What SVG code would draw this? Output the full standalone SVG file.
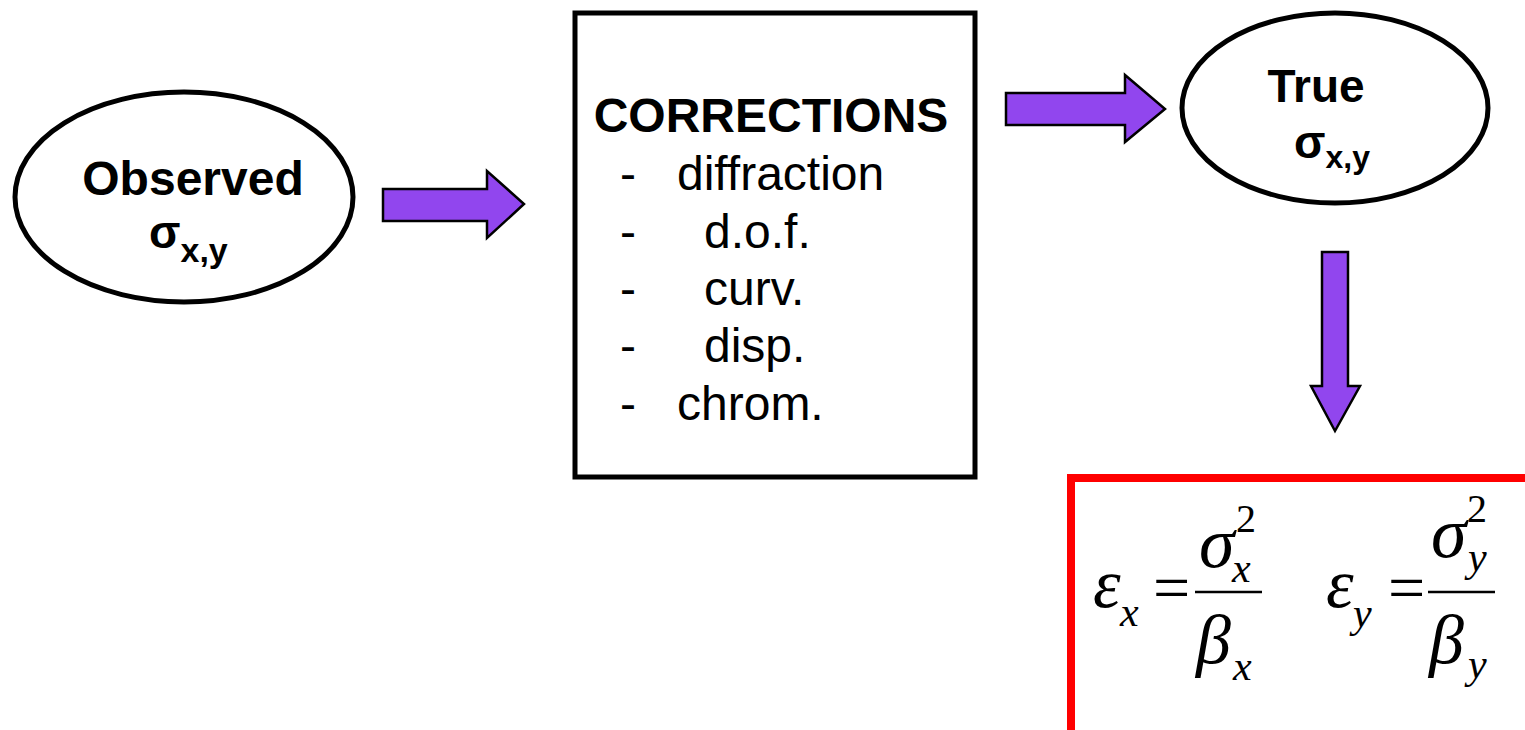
<svg xmlns="http://www.w3.org/2000/svg" width="1525" height="730" viewBox="0 0 1525 730">
  <style>
    .node { fill: #fff; stroke: #000; stroke-width: 5; }
    .arrow { fill: #9146EE; stroke: #000; stroke-width: 2.5; stroke-linejoin: miter; }
    .lbl { font-family: "Liberation Sans", Arial, sans-serif; font-weight: bold; fill: #000; }
    .item { font-family: "Liberation Sans", Arial, sans-serif; font-size: 48px; fill: #000; }
    .math { font-family: "Liberation Serif", "Times New Roman", serif; font-style: italic; fill: #000; }
    .mop { font-family: "Liberation Serif", "Times New Roman", serif; fill: #000; }
  </style>
  <rect width="1525" height="730" fill="#fff"/>

  <g id="observed">
    <ellipse class="node" cx="184" cy="197" rx="169" ry="105"/>
    <text class="lbl" x="193" y="195" font-size="48" text-anchor="middle">Observed</text>
    <text class="lbl" x="149" y="248" font-size="46">σ<tspan font-size="34" dy="14">x,y</tspan></text>
  </g>

  <g id="corrections">
    <rect class="node" x="575" y="13" width="400" height="464"/>
    <text class="lbl" x="771" y="132" font-size="48" text-anchor="middle">CORRECTIONS</text>
    <text class="item" y="190"><tspan x="620">-</tspan><tspan x="677">diffraction</tspan></text>
    <text class="item" y="248"><tspan x="620">-</tspan><tspan x="704">d.o.f.</tspan></text>
    <text class="item" y="305"><tspan x="620">-</tspan><tspan x="704">curv.</tspan></text>
    <text class="item" y="362"><tspan x="620">-</tspan><tspan x="704">disp.</tspan></text>
    <text class="item" y="420"><tspan x="620">-</tspan><tspan x="677">chrom.</tspan></text>
  </g>

  <g id="true">
    <ellipse class="node" cx="1335" cy="108" rx="153" ry="95"/>
    <text class="lbl" x="1316" y="102" font-size="46" text-anchor="middle">True</text>
    <text class="lbl" x="1294" y="158" font-size="46">σ<tspan font-size="32" dy="10">x,y</tspan></text>
  </g>

  <g id="emittance">
    <rect x="1071" y="478" width="470" height="270" fill="#fff" stroke="#FF0000" stroke-width="8"/>
    <!-- epsilon_x = sigma_x^2 / beta_x -->
    <text class="math" x="1093" y="607" font-size="70">ε</text>
    <text class="math" x="1120" y="626" font-size="42">x</text>
    <text class="mop" x="1153" y="610" font-size="66">=</text>
    <line x1="1195" y1="592" x2="1262" y2="592" stroke="#000" stroke-width="2.5"/>
    <text class="math" x="1199" y="567" font-size="72">σ</text>
    <text class="mop" x="1236" y="532" font-size="40">2</text>
    <text class="math" x="1232" y="582" font-size="42">x</text>
    <text class="math" x="1196" y="663" font-size="70">β</text>
    <text class="math" x="1233" y="680" font-size="42">x</text>
    <!-- epsilon_y = sigma_y^2 / beta_y -->
    <text class="math" x="1326" y="607" font-size="70">ε</text>
    <text class="math" x="1353" y="627" font-size="42">y</text>
    <text class="mop" x="1388" y="610" font-size="66">=</text>
    <line x1="1428" y1="592" x2="1495" y2="592" stroke="#000" stroke-width="2.5"/>
    <text class="math" x="1431" y="557" font-size="72">σ</text>
    <text class="mop" x="1467" y="522" font-size="40">2</text>
    <text class="math" x="1468" y="571" font-size="42">y</text>
    <text class="math" x="1429" y="663" font-size="70">β</text>
    <text class="math" x="1468" y="678" font-size="42">y</text>
  </g>

  <g id="connectors">
    <polygon class="arrow" points="383,189 487,189 487,171 524,204 487,238 487,221 383,221"/>
    <polygon class="arrow" points="1006,93 1125,93 1125,75 1165,109 1125,142 1125,125 1006,125"/>
    <polygon class="arrow" points="1322,252 1348,252 1348,386 1360,386 1335,431 1311,386 1322,386"/>
  </g>
</svg>
